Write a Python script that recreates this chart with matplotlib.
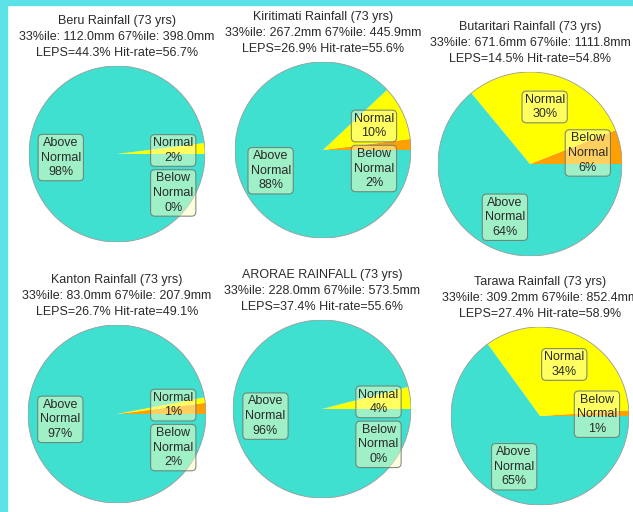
import matplotlib
matplotlib.use('Agg')
import numpy as np
import matplotlib.pyplot as plt
from matplotlib.patches import Circle, Rectangle
from matplotlib.transforms import Bbox, TransformedBbox

plt.rcParams['font.family'] = ['Liberation Sans', 'DejaVu Sans']

titles = ['Beru Rainfall (73 yrs)', 'Kiritimati Rainfall (73 yrs)', 'Butaritari Rainfall (73 yrs)',
          'Kanton Rainfall (73 yrs)', 'ARORAE RAINFALL (73 yrs)', 'Tarawa Rainfall (73 yrs)']
p33 = [112.0, 267.2, 671.6, 83.0, 228.0, 309.2]
p67 = [398.0, 445.9, 1111.8, 207.9, 573.5, 852.4]
leps = [44.3, 26.9, 14.5, 26.7, 37.4, 27.4]
hit_rate = [56.7, 55.6, 54.8, 49.1, 55.6, 58.9]
below = [0, 2, 6, 2, 0, 1]
normal = [2, 10, 30, 1, 4, 34]
above = [98, 88, 64, 97, 96, 65]

# pie placement in pixels (centre x, centre y from top, radius)
W, H = 633, 512
layout = [(117, 154, 88), (323, 150, 88), (530, 164, 92),
          (117, 414, 89), (322, 409, 89), (540, 416, 89)]
# left edge of each panel, text is clipped there
panel_left = [0, 214, 424, 0, 214, 424]

col_below = '#FF9F00'
col_normal = '#FFFF00'
col_above = '#40E0D0'
txt_col = '#2a2a2a'
fs = 9

fig = plt.figure(figsize=(W / 100, H / 100), dpi=100)
fig.patch.set_facecolor('white')
fig.patches.append(Rectangle((0, 0), 7 / W, 1, transform=fig.transFigure, color='#5CE1E6', zorder=0))
fig.patches.append(Rectangle((0, 1 - 5 / H), 1, 5 / H, transform=fig.transFigure, color='#5CE1E6', zorder=0))

box = dict(boxstyle='round,pad=0.2,rounding_size=0.35', fc=(1, 1, 0.753, 0.5),
           ec=(0.42, 0.48, 0.44, 0.85), lw=0.8)


def box_h(n):
    return n * 15 + 3


for i in range(6):
    cx, cy, r = layout[i]
    ax = fig.add_axes([(cx - r) / W, 1 - (cy + r) / H, 2 * r / W, 2 * r / H])
    vals = [below[i], normal[i], above[i]]
    ax.pie(vals, colors=[col_below, col_normal, col_above], startangle=0, counterclock=True,
           radius=1, wedgeprops=dict(linewidth=0))
    ax.add_patch(Circle((0, 0), 1, fill=False, ec='#9a9a9a', lw=0.6))
    ax.set_xlim(-1, 1)
    ax.set_ylim(-1, 1)
    ax.axis('off')

    # label positions at mid angle of each wedge
    cum = np.cumsum([0] + vals)
    mids = [(cum[k] + cum[k + 1]) / 2 / 100 * 2 * np.pi for k in range(3)]
    rl = 0.64
    pos = [[rl * np.cos(a), rl * np.sin(a)] for a in mids]
    texts = ['Below\nNormal\n%d%%' % below[i], 'Normal\n%d%%' % normal[i], 'Above\nNormal\n%d%%' % above[i]]
    hB = box_h(3) / r
    hN = box_h(2) / r
    if abs(pos[1][1] - pos[0][1]) < (hB + hN) / 2 + 2 / r and pos[0][0] > 0 and pos[1][0] > 0:
        pos[0][1] = pos[1][1] - (hB + hN) / 2 - 2 / r
        pos[0][0] = pos[1][0]
    for k in [2, 1, 0]:
        ax.text(pos[k][0], pos[k][1], texts[k], ha='center', va='center', fontsize=fs,
                color=txt_col, linespacing=1.3, bbox=box, zorder=5)

    # title block above pie
    lines = [titles[i],
             '33%%ile: %.1fmm 67%%ile: %.1fmm' % (p33[i], p67[i]),
             'LEPS=%.1f%% Hit-rate=%.1f%%' % (leps[i], hit_rate[i])]
    top = cy - r
    clip = TransformedBbox(Bbox([[panel_left[i] / W, 0], [1, 1]]), fig.transFigure)
    for j, s in enumerate(lines):
        y = top - 45 + 16 * j
        t = fig.text(cx / W, 1 - y / H, s, ha='center', va='center', fontsize=fs, color=txt_col)
        t.set_clip_box(clip)
        t.set_clip_on(True)

fig.savefig('out.png', dpi=100)
